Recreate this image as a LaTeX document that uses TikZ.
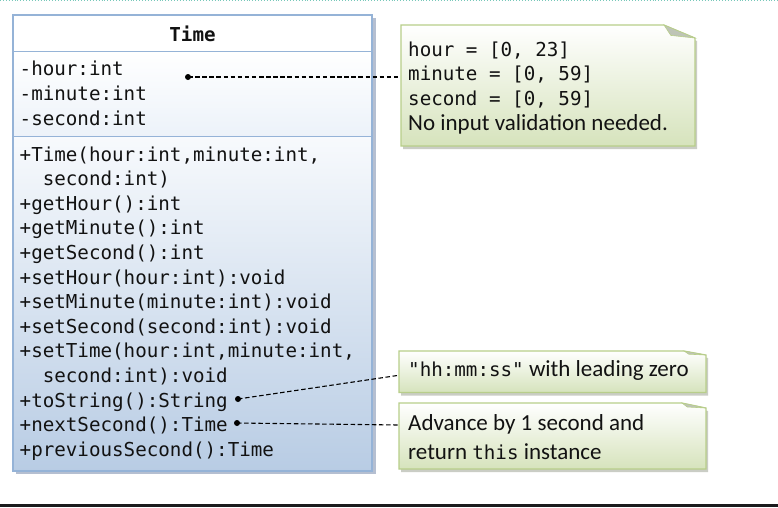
\documentclass[tikz,border=0pt]{standalone}
\usepackage{fontspec}
\setmainfont{Carlito}
\newfontfamily\umlmono{DejaVu Sans Mono}
\usetikzlibrary{calc}

\definecolor{clsline}{RGB}{149,179,215}
\definecolor{clsbot}{RGB}{184,204,228}
\definecolor{attrbot}{RGB}{236,242,249}
\definecolor{clsshadow}{RGB}{150,165,190}
\definecolor{noteline}{RGB}{184,206,138}
\definecolor{notebot}{RGB}{214,227,188}
\definecolor{notefold}{RGB}{190,196,182}
\definecolor{noteshadow}{RGB}{160,165,150}
\definecolor{txt}{RGB}{18,18,18}
\definecolor{topline}{RGB}{120,200,186}
\definecolor{barc}{RGB}{27,27,29}

% UML note: #1 node, #2 fold width, #3 fold depth (numbers, in pt)
\newcommand\umlnote[3]{%
  \fill[noteshadow, opacity=.55]
    ([shift={(2,3)}]#1.north west) -- ([shift={(2-#2,3)}]#1.north east)
    -- ([shift={(2,3+#3)}]#1.north east) -- ([shift={(2,3)}]#1.south east)
    -- ([shift={(2,3)}]#1.south west) -- cycle;
  \path[draw=noteline, line width=1.1pt, top color=white, bottom color=notebot]
    (#1.north west) -- ([xshift={-#2pt}]#1.north east)
    -- ([yshift={-#3pt}]#1.north east) -- (#1.south east)
    -- (#1.south west) -- cycle;
  \fill[notefold, draw=noteline, line width=.6pt]
    ([xshift={-#2pt}]#1.north east)
    -- ([xshift={-0.78*#2pt}, yshift={-0.8*#3pt}]#1.north east)
    -- ([yshift={-#3pt}]#1.north east) -- cycle;
}

\begin{document}
\begin{tikzpicture}[x=1pt,y=-1pt,
  classpart/.style={draw=clsline, line width=1.3pt, inner sep=0pt, outer sep=0pt,
    anchor=north west, minimum width=359pt},
  notebox/.style={inner sep=0pt, outer sep=0pt, anchor=north west},
  member/.style={anchor=base west, inner sep=0pt, text=txt,
    font=\umlmono\fontsize{19.2}{22}\selectfont},
  notetext/.style={anchor=base west, inner sep=0pt, text=txt,
    font=\fontsize{23}{28}\selectfont},
  conn/.style={draw=black, line width=1.1pt, dash pattern=on 4.5pt off 2.6pt},
  ]
\useasboundingbox (0,0) rectangle (778,507);
\fill[white] (0,0) rectangle (778,507);

% page rules
\draw[topline, dotted, line width=.9pt] (0,0.6) -- (778,0.6);
\fill[barc] (0,503.5) rectangle (778,507);

% class Time
\fill[clsshadow, opacity=.7] (16,18) rectangle (375.5,474);
\node[classpart, minimum height=36.7pt, fill=white] (hdr) at (13,15) {};
\node[classpart, minimum height=85pt, top color=white, bottom color=attrbot] (attr) at (13,51.7) {};
\node[classpart, minimum height=334.3pt, top color=white!60!attrbot, bottom color=clsbot] (meth) at (13,136.7) {};

\node[anchor=base, inner sep=0pt, text=txt, font=\umlmono\bfseries\fontsize{19.2}{22}\selectfont]
  (title) at (192.5,41.7) {Time};

\node[member] (a1) at (19.5,75) {-hour:int};
\node[member] (a2) at (19.5,100) {-minute:int};
\node[member] (a3) at (19.5,125.5) {-second:int};

\foreach \t [count=\i] in {
  {+Time(hour:int,minute:int,},
  {\phantom{xx}second:int)},
  {+getHour():int},
  {+getMinute():int},
  {+getSecond():int},
  {+setHour(hour:int):void},
  {+setMinute(minute:int):void},
  {+setSecond(second:int):void},
  {+setTime(hour:int,minute:int,},
  {\phantom{xx}second:int):void},
  {+toString():String},
  {+nextSecond():Time},
  {+previousSecond():Time}}
  \node[member] (m\i) at (19.5,{161+24.6*(\i-1)}) {\t};

% notes
\node[notebox, minimum width=294pt, minimum height=121pt] (n1) at (401,25) {};
\node[notebox, minimum width=307pt, minimum height=41.5pt] (n2) at (399,351) {};
\node[notebox, minimum width=307pt, minimum height=66pt] (n3) at (399,403) {};
\umlnote{n1}{31}{13}
\umlnote{n2}{22}{4}
\umlnote{n3}{24}{5}

\node[member] (t1) at (408,56) {hour = [0, 23]};
\node[member] (t2) at (408,80.5) {minute = [0, 59]};
\node[member] (t3) at (408,105) {second = [0, 59]};
\node[notetext] (t4) at (408,130) {No input validation needed.};

\node[notetext] (t5) at (408,376.7) {{\umlmono\fontsize{19.2}{22}\selectfont"hh:mm:ss"} with leading zero};

\node[notetext] (t6) at (408,430.7) {Advance by 1 second and};
\node[notetext] (t7) at (408,459.3) {return {\umlmono\fontsize{19.2}{22}\selectfont this} instance};

% anchors of the note links
\coordinate (p1) at (188,77);
\coordinate (p2) at (238,399);
\coordinate (p3) at (237,423);
\draw[conn] (p1) -- (p1 -| n1.west);
\draw[conn] (p2) -- ([yshift=-3.5pt]n2.west);
\draw[conn] (p3) -- ([yshift=11pt]n3.west);
\fill[black] (p1) circle (3pt) (p2) circle (3pt) (p3) circle (3pt);
\end{tikzpicture}
\end{document}
